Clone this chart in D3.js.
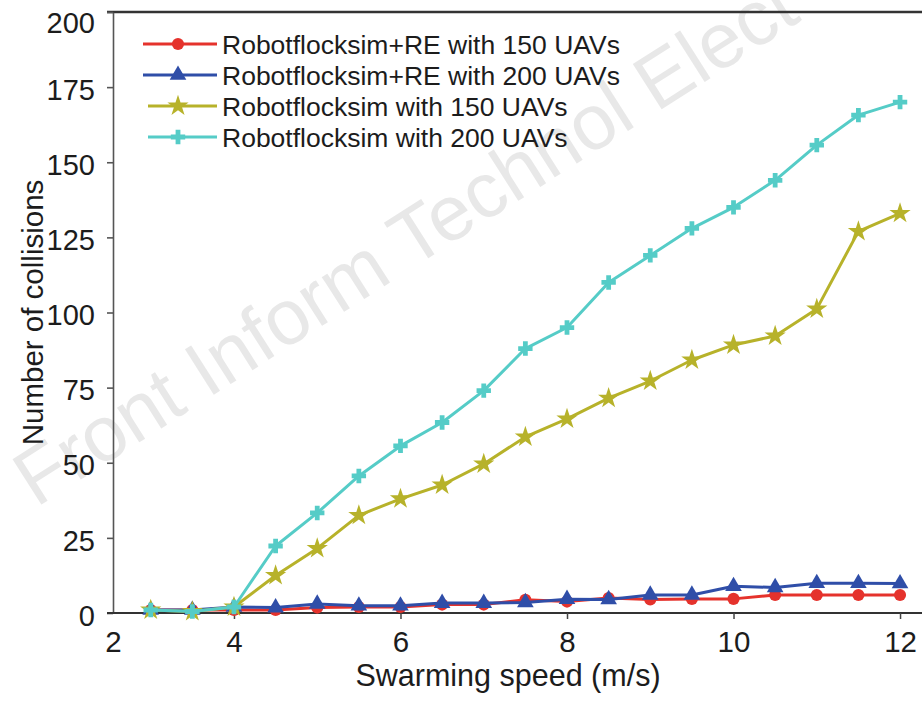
<!DOCTYPE html>
<html>
<head>
<meta charset="utf-8">
<script src="https://cdn.jsdelivr.net/npm/d3@7"></script>
<style>
  html, body { margin: 0; padding: 0; background: #fff; }
  svg { display: block; font-family: "Liberation Sans", Arial, sans-serif; }
</style>
</head>
<body>
<svg id="chart" width="922" height="701"></svg>
<script>
// ---- data ----
const speeds = [3, 3.5, 4, 4.5, 5, 5.5, 6, 6.5, 7, 7.5, 8, 8.5, 9, 9.5, 10, 10.5, 11, 11.5, 12];
const reWith150 = [1, 1, 1, 1, 1.8, 2, 2, 2.8, 2.8, 4.4, 3.8, 5, 4.5, 4.7, 4.7, 6, 6, 6, 6];
const reWith200 = [1, 1, 2, 1.8, 3, 2.4, 2.4, 3.3, 3.3, 3.5, 4.6, 4.5, 6, 6, 8.9, 8.5, 9.9, 9.9, 9.8];
const simWith150 = [1, 0.5, 2, 12.5, 21.5, 32.5, 38, 42.6, 49.6, 58.6, 64.6, 71.5, 77.2, 84.2, 89.2, 92.2, 101.2, 127, 133];
const simWith200 = [1, 0.5, 2, 22.3, 33.3, 45.6, 55.6, 63.4, 74, 88, 95, 110, 119, 128, 135, 144, 155.7, 165.7, 170];
const seriesNames = [
  "Robotflocksim+RE with 150 UAVs",
  "Robotflocksim+RE with 200 UAVs",
  "Robotflocksim with 150 UAVs",
  "Robotflocksim with 200 UAVs"
];
const xTickValues = [2, 4, 6, 8, 10, 12];
const yTickValues = [0, 25, 50, 75, 100, 125, 150, 175, 200];
const xTitle = "Swarming speed (m/s)";
const yTitle = "Number of collisions";
const watermark = "Front Inform Technol Elect";

// ---- styles ----
const colors = ["#e5322c", "#2f4ea8", "#b7b22a", "#55ccc7"];
const symbols = [d3.symbolCircle, d3.symbolTriangle, d3.symbolStar, d3.symbolCross];
const symSizes = [115, 120, 140, 115];
const seriesValues = [reWith150, reWith200, simWith150, simWith200];

const svg = d3.select("#chart");
const mLeft = 113, mTop = 12, mBottom = 613, mRight = 940;
const xStart = 2.547; // axis starts here; first label "2" sits at the corner
const x = d3.scaleLinear().domain([xStart, 12.48]).range([mLeft, mRight]);
const y = d3.scaleLinear().domain([0, 200]).range([mBottom, mTop]);

// watermark
svg.append("text")
  .attr("transform", "translate(36,508) rotate(-32.5)")
  .attr("font-size", 78)
  .attr("fill", "#e8e8e8")
  .text(watermark);

// top border
svg.append("line")
  .attr("x1", mLeft - 6).attr("x2", mRight)
  .attr("y1", mTop).attr("y2", mTop)
  .attr("stroke", "#333").attr("stroke-width", 2.5);

// y axis
const yAxis = svg.append("g")
  .attr("transform", `translate(${mLeft},0)`)
  .call(d3.axisLeft(y).tickValues(yTickValues).tickSize(6).tickPadding(12).tickSizeOuter(0));
yAxis.select(".domain").attr("stroke", "#555").attr("stroke-width", 1.6);
yAxis.selectAll(".tick line").attr("stroke", "#555").attr("stroke-width", 1.6);
yAxis.selectAll(".tick text").attr("font-size", 29).attr("fill", "#1c1c1c")
  .attr("font-family", "Liberation Sans, Arial, sans-serif")
  .attr("dy", "0.42em")
  .attr("y", d => (d === 200 ? 8 : 0));

// x axis
const xPos = v => (v < xStart ? xStart : v);
const xAxis = svg.append("g")
  .attr("transform", `translate(0,${mBottom})`)
  .call(d3.axisBottom(x).tickValues(xTickValues.map(xPos)).tickSize(6).tickPadding(12).tickSizeOuter(0)
    .tickFormat((d, i) => String(xTickValues[i])));
xAxis.select(".domain").attr("stroke", "#333").attr("stroke-width", 2.2)
  .attr("d", `M${mLeft - 6},0H${mRight}`);
xAxis.selectAll(".tick line").attr("stroke", "#444").attr("stroke-width", 1.5)
  .attr("opacity", (d, i) => (i === 0 ? 0 : 1));
xAxis.selectAll(".tick text").attr("font-size", 29.5).attr("fill", "#1c1c1c")
  .attr("font-family", "Liberation Sans, Arial, sans-serif");

// axis titles
svg.append("text")
  .attr("x", 508).attr("y", 686)
  .attr("text-anchor", "middle").attr("font-size", 30.5).attr("fill", "#1c1c1c")
  .text(xTitle);
svg.append("text")
  .attr("transform", `translate(43,${(mTop + mBottom) / 2}) rotate(-90)`)
  .attr("text-anchor", "middle").attr("font-size", 29.5).attr("fill", "#1c1c1c")
  .text(yTitle);

// series
const line = d3.line().x((d, i) => x(speeds[i])).y(d => y(d));
seriesValues.forEach((vals, s) => {
  const g = svg.append("g");
  g.append("path")
    .datum(vals)
    .attr("d", line)
    .attr("fill", "none")
    .attr("stroke", colors[s])
    .attr("stroke-width", 3)
    .attr("stroke-linejoin", "round");
  g.selectAll("path.m")
    .data(vals)
    .join("path")
    .attr("class", "m")
    .attr("transform", (d, i) => `translate(${x(speeds[i])},${y(d)})`)
    .attr("d", d3.symbol().type(symbols[s]).size(symSizes[s]))
    .attr("fill", colors[s]);
});

// legend
const legend = svg.append("g");
seriesNames.forEach((name, s) => {
  const ly = 44 + s * 31;
  const lg = legend.append("g").attr("transform", `translate(0,${ly})`);
  lg.append("line").attr("x1", s < 2 ? 143 : 148).attr("x2", 217)
    .attr("stroke", colors[s]).attr("stroke-width", 3);
  lg.append("path").attr("transform", "translate(178,0)")
    .attr("d", d3.symbol().type(symbols[s]).size(symSizes[s]))
    .attr("fill", colors[s]);
  lg.append("text").attr("x", 222).attr("y", 0).attr("dy", "0.36em")
    .attr("font-size", 26.5).attr("fill", "#1c1c1c").text(name);
});
</script>
</body>
</html>
